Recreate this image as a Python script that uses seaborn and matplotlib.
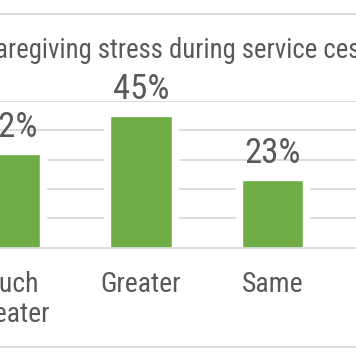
import matplotlib
matplotlib.use("Agg")
import matplotlib.pyplot as plt
import seaborn as sns
import pandas as pd
from matplotlib.patches import Rectangle

# Dados visíveis no recorte
categorias = ["Much\nGreater", "Greater", "Same"]
valores = [32, 45, 23]
titulo = "Caregiving stress during service cessation"

verde = "#70AD47"
cinza_txt = "#595959"
cinza_linha = "#D9D9D9"

sns.set_theme(style="white")
plt.rcParams["font.family"] = ["Roboto Condensed", "DejaVu Sans"]

df = pd.DataFrame({"cat": categorias, "val": valores})

W, H = 356, 364
fig = plt.figure(figsize=(W / 100, H / 100), dpi=100)

# eixo maior que a figura, para reproduzir o recorte
px0 = 9.5 - 131.5 * 0.5
px1 = 9.5 + 131.5 * 3.2
ax = fig.add_axes([px0 / W, 116.5 / H, (px1 - px0) / W, (263 - 116.5) / H])

# halo branco atrás das barras (corta as linhas de grade)
ax.bar(range(len(valores)), valores, width=0.56, color="white", zorder=0.8)
sns.barplot(data=df, x="cat", y="val", color=verde, width=0.47, saturation=1,
            ax=ax, zorder=1)

ax.set_xlim(-0.5, 3.2)
ax.set_ylim(0, 50)
ax.set_yticks([10, 20, 30, 40, 50])
ax.yaxis.grid(True, color=cinza_linha, linewidth=1.3)
ax.set_axisbelow(True)
ax.tick_params(axis="y", left=False, labelleft=False)
ax.set_xlabel("")
ax.set_ylabel("")
for s in ["top", "left", "right"]:
    ax.spines[s].set_visible(False)
ax.spines["bottom"].set_color(cinza_linha)
ax.spines["bottom"].set_linewidth(1.3)

ax.set_xticks(range(len(categorias)))
ax.set_xticklabels(categorias, fontsize=20, color=cinza_txt, linespacing=1.15)
ax.tick_params(axis="x", which="major", length=0, pad=17)
ax.set_xticks([0.5, 1.5, 2.5], minor=True)
ax.tick_params(axis="x", which="minor", length=5, width=1.3, color=cinza_linha)

ax.bar_label(ax.containers[-1], labels=[f"{v}%" for v in valores],
             fontsize=25, color=cinza_txt, padding=7, clip_on=False)

# moldura do gráfico
fig.patches.append(Rectangle((-0.1, 17 / H), 1.2, (350 - 17) / H,
                             transform=fig.transFigure, fill=False,
                             edgecolor=cinza_linha, linewidth=1.3))

# título, deslocado para que o "C" fique fora da figura
r = fig.canvas.get_renderer()
t = fig.text(0, 0, "C", fontsize=19.3)
wc = t.get_window_extent(r).width
t.remove()
fig.text((-wc - 5) / W, (H - 50) / H, titulo, fontsize=19.3, color=cinza_txt,
         ha="left", va="center")

fig.savefig("out.png", dpi=100)
